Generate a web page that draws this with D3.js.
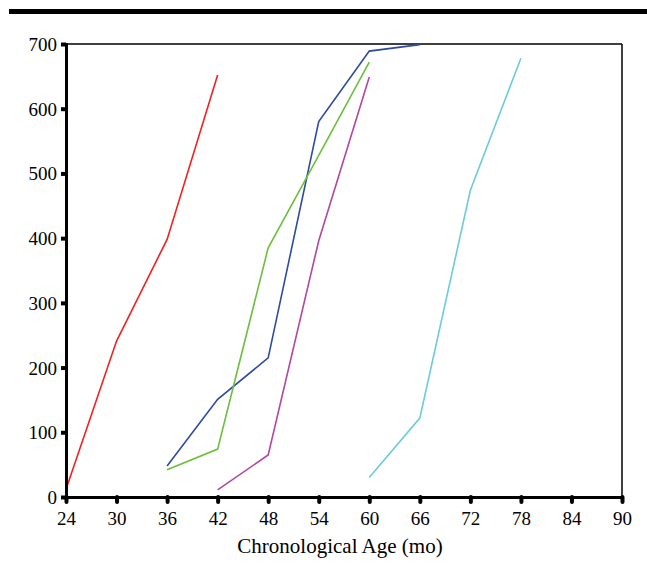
<!DOCTYPE html>
<html>
<head>
<meta charset="utf-8">
<script src="https://cdn.jsdelivr.net/npm/d3@7"></script>
<style>
  body { margin: 0; background: #fff; }
  svg text { font-family: 'Liberation Serif', 'Times New Roman', Tinos, 'Noto Serif', 'DejaVu Serif', serif !important; fill: #000; }
</style>
</head>
<body>
<div id="chart"></div>
<script>
// Axis ticks
const xTicks = [24, 30, 36, 42, 48, 54, 60, 66, 72, 78, 84, 90];
const yTicks = [0, 100, 200, 300, 400, 500, 600, 700];

// Series (age in months, value)
const redAges = [24, 30, 36, 42];
const redVals = [12, 241, 398, 652];

const blueAges = [36, 42, 48, 54, 60, 66];
const blueVals = [48, 151, 215, 580, 689, 699];

const greenAges = [36, 42, 48, 54, 60];
const greenVals = [42, 74, 385, 528, 672];

const magentaAges = [42, 48, 54, 60];
const magentaVals = [11, 65, 396, 649];

const cyanAges = [60, 66, 72, 78];
const cyanVals = [30, 122, 474, 678];

const series = [
  { ages: redAges, vals: redVals, color: '#f42020' },
  { ages: blueAges, vals: blueVals, color: '#2d4b9f' },
  { ages: greenAges, vals: greenVals, color: '#6cbf3c' },
  { ages: magentaAges, vals: magentaVals, color: '#b4469e' },
  { ages: cyanAges, vals: cyanVals, color: '#6ccbd9' },
];

const width = 647, height = 582;
const margin = { left: 66, right: 25, top: 44, bottom: 85 };

const svg = d3.select('#chart').append('svg')
  .attr('width', width)
  .attr('height', height);

// Top rule
svg.append('rect')
  .attr('x', 9).attr('y', 9)
  .attr('width', width - 9).attr('height', 5)
  .attr('fill', '#000');

const x = d3.scaleLinear().domain([24, 90]).range([margin.left, width - margin.right]);
const y = d3.scaleLinear().domain([0, 700]).range([height - margin.bottom, margin.top]);

// Frame: top and right thin
svg.append('line')
  .attr('x1', x(24)).attr('x2', x(90))
  .attr('y1', y(700)).attr('y2', y(700))
  .attr('stroke', '#000').attr('stroke-width', 1.5);
svg.append('line')
  .attr('x1', x(90)).attr('x2', x(90))
  .attr('y1', y(700)).attr('y2', y(0))
  .attr('stroke', '#000').attr('stroke-width', 1.5);

// Lines
const line = d3.line()
  .x(d => x(d[0]))
  .y(d => y(d[1]));

for (let s of series) {
  svg.append('path')
    .datum(s.ages.map((a, i) => [a, s.vals[i]]))
    .attr('d', line)
    .attr('fill', 'none')
    .attr('stroke', s.color)
    .attr('stroke-width', 1.6);
}

// Y axis
const yAxis = svg.append('g')
  .attr('transform', `translate(${x(24)},0)`)
  .call(d3.axisLeft(y).tickValues(yTicks).tickSize(5).tickPadding(4))
  .attr('font-size', 19);
yAxis.select('.domain').attr('stroke-width', 3);
yAxis.selectAll('.tick line').attr('stroke-width', 4);
yAxis.selectAll('.tick text').attr('dy', '0.34em');

// X axis
const xAxis = svg.append('g')
  .attr('transform', `translate(0,${y(0)})`)
  .call(d3.axisBottom(x).tickValues(xTicks).tickSize(5).tickPadding(10))
  .attr('font-size', 19);
xAxis.select('.domain').attr('stroke-width', 3);
xAxis.selectAll('.tick line')
  .attr('stroke-width', 4)
  .attr('stroke-linecap', 'round');

svg.selectAll('.domain').attr('stroke', '#000');

// Axis title
svg.append('text')
  .attr('x', 340)
  .attr('y', 553)
  .attr('text-anchor', 'middle')
  .attr('font-size', 21)
  .text('Chronological Age (mo)');
</script>
</body>
</html>
